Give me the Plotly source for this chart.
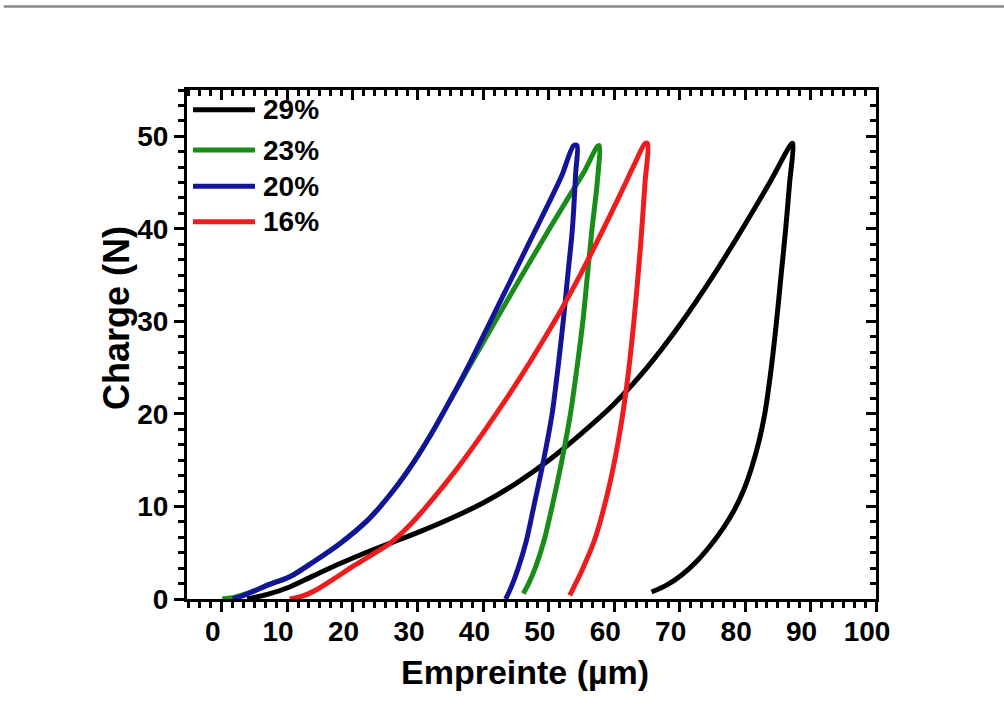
import plotly.graph_objects as go

# Indentation curves: loading branch followed by unloading branch (x in µm, load in N)
labels = ["29%", "23%", "20%", "16%"]
colors = ["#000000", "#1a8c1a", "#14149a", "#ee1c1c"]

empreinte_29 = [3.9, 7.0, 10.4, 14.0, 18.0, 22.0, 26.0, 30.0, 35.0, 40.0, 45.0, 50.0, 55.0,
                60.0, 65.0, 70.0, 75.0, 80.0, 84.0, 87.1,
                87.3, 86.8, 86.2, 85.5, 84.8, 84.0, 83.0, 82.1, 81.0, 79.8, 78.4, 76.6,
                74.6, 72.5, 70.3, 68.0, 65.7]
charge_29 = [0.0, 0.5, 1.3, 2.5, 3.8, 5.0, 6.1, 7.2, 8.7, 10.4, 12.5, 15.0, 17.9,
             21.1, 25.0, 29.6, 34.8, 40.5, 45.3, 49.2,
             49.2, 45.0, 40.0, 35.0, 30.0, 25.0, 20.0, 17.0, 14.2, 11.8, 9.7, 7.6,
             5.7, 4.0, 2.6, 1.5, 0.75]

empreinte_23 = [0.1, 2.0, 3.9, 5.4, 7.0, 10.4, 14.0, 18.1, 22.0, 24.0, 26.0, 28.0, 30.0,
                32.0, 34.0, 36.0, 38.0, 41.0, 44.0, 47.0, 50.0, 53.0, 55.5, 57.4,
                57.7, 57.4, 56.6, 55.9, 55.2, 54.3, 53.3, 52.0, 50.5, 49.3, 48.0, 46.8, 46.1]
charge_23 = [0.0, 0.2, 0.6, 1.0, 1.5, 2.4, 4.0, 6.0, 8.3, 9.8, 11.5, 13.4, 15.5,
             17.8, 20.3, 22.8, 25.3, 29.0, 32.7, 36.3, 39.9, 43.4, 46.3, 48.9,
             49.0, 45.0, 40.0, 35.0, 30.0, 25.0, 20.0, 15.0, 10.0, 6.4, 3.5, 1.5, 0.6]

empreinte_20 = [1.7, 3.4, 5.4, 7.0, 10.4, 14.0, 18.1, 22.0, 24.0, 26.0, 28.0, 30.0, 32.0,
                34.0, 36.0, 38.0, 41.0, 44.0, 47.0, 50.0, 52.0, 53.8,
                54.3, 54.1, 53.6, 52.9, 52.2, 51.4, 50.5, 49.2, 47.7, 46.6, 45.3, 44.2, 43.4]
charge_20 = [0.0, 0.4, 1.0, 1.5, 2.4, 4.0, 6.0, 8.3, 9.8, 11.5, 13.4, 15.5, 17.8,
             20.3, 22.9, 25.6, 29.9, 34.2, 38.5, 42.8, 45.8, 49.0,
             49.0, 46.0, 40.0, 35.0, 30.0, 25.0, 20.0, 15.0, 10.0, 6.4, 3.3, 1.2, 0.0]

empreinte_16 = [10.4, 12.3, 14.5, 17.0, 20.0, 23.0, 25.7, 28.5, 31.0, 34.0, 37.0, 40.0,
                43.0, 46.0, 49.0, 52.0, 55.0, 58.0, 61.0, 63.0, 64.7,
                65.1, 64.7, 64.0, 63.0, 61.9, 60.6, 59.0, 57.0, 55.0, 53.2]
charge_16 = [0.0, 0.3, 1.0, 2.1, 3.5, 4.8, 6.0, 7.8, 9.75, 12.3, 15.05, 18.0,
             21.1, 24.35, 27.8, 31.4, 35.3, 39.5, 43.85, 46.85, 49.2,
             49.2, 45.0, 38.0, 30.0, 23.0, 17.0, 11.5, 6.4, 3.0, 0.4]

series_x = [empreinte_29, empreinte_23, empreinte_20, empreinte_16]
series_y = [charge_29, charge_23, charge_20, charge_16]

x_ticks = list(range(0, 101, 10))
y_ticks = [0, 10, 20, 30, 40, 50]
x_range = [-5.3, 100]
y_range = [0, 55]

FONT = "Liberation Sans, Arial, sans-serif"

fig = go.Figure()
for name, color, xs, ys in zip(labels, colors, series_x, series_y):
    fig.add_trace(go.Scatter(x=xs, y=ys, mode="lines", name=name,
                             line=dict(color=color, width=5, shape="spline", smoothing=0.8),
                             showlegend=False))

# placeholder trace so the mirrored top/right axes get a subplot
fig.add_trace(go.Scatter(x=[None], y=[None], xaxis="x2", yaxis="y2", showlegend=False,
                         hoverinfo="skip"))

tick_common = dict(ticklen=10, tickwidth=3, tickcolor="black",
                   showline=True, linecolor="black", linewidth=3,
                   showgrid=False, zeroline=False)
minor_out = dict(ticks="outside", ticklen=6, tickwidth=3, tickcolor="black", dtick=10 / 6)
minor_in = dict(ticks="inside", ticklen=6, tickwidth=3, tickcolor="black", dtick=10 / 6)

fig.update_layout(
    width=1004, height=715,
    margin=dict(l=187, r=128, t=90, b=116),
    paper_bgcolor="white", plot_bgcolor="white",
    showlegend=False,
    xaxis=dict(range=x_range, tickvals=x_ticks, ticks="outside", minor=minor_out,
               tickfont=dict(family=FONT, size=28, color="black", weight="bold"),
               ticklabelshift=-9, ticklabelstandoff=-5, **tick_common),
    yaxis=dict(range=y_range, tickvals=y_ticks, ticks="outside", minor=minor_out,
               tickfont=dict(family=FONT, size=28, color="black", weight="bold"),
               **tick_common),
    xaxis2=dict(range=x_range, overlaying="x", side="top", anchor="y", tickvals=x_ticks,
                ticks="inside", minor=minor_in, showticklabels=False, **tick_common),
    yaxis2=dict(range=y_range, overlaying="y", side="right", anchor="x", tickvals=y_ticks,
                ticks="inside", minor=minor_in, showticklabels=False, **tick_common),
)

# axis titles
fig.add_annotation(text="Empreinte (µm)", xref="paper", yref="paper", x=0.4906, y=-0.143,
                   showarrow=False, xanchor="center", yanchor="middle",
                   font=dict(family=FONT, size=34, color="black", weight="bold"))
fig.add_annotation(text="Charge (N)", xref="paper", yref="paper", x=-0.103, y=0.552,
                   textangle=-90, showarrow=False, xanchor="center", yanchor="middle",
                   font=dict(family=FONT, size=36, color="black", weight="bold"))

# legend: line samples and labels in the upper-left corner
legend_y = [0.961, 0.882, 0.811, 0.741]
for name, color, ly in zip(labels, colors, legend_y):
    fig.add_shape(type="line", xref="paper", yref="paper", x0=0.0087, x1=0.0987,
                  y0=ly, y1=ly, line=dict(color=color, width=5))
    fig.add_annotation(text=name, xref="paper", yref="paper", x=0.107, y=ly,
                       showarrow=False, xanchor="left", yanchor="middle",
                       font=dict(family=FONT, size=28, color="black", weight="bold"))

# thin grey rule along the top of the page
fig.add_shape(type="line", xref="paper", yref="paper", x0=-0.266, x1=1.19,
              y0=1.164, y1=1.164, line=dict(color="#8a8a8a", width=2.5))

fig.write_html("out.html")
